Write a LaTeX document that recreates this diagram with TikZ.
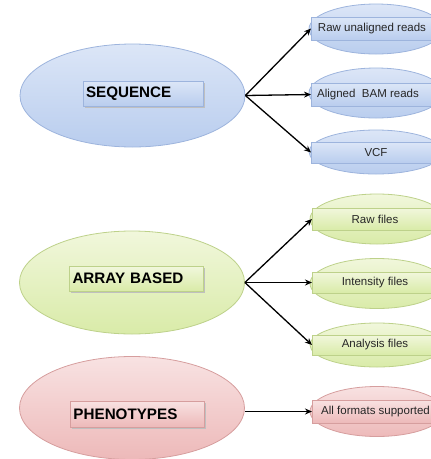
\documentclass[tikz,border=0pt]{standalone}
\usepackage{fontspec}
\setmainfont{Liberation Sans}
\usetikzlibrary{shapes.geometric,arrows.meta}
\definecolor{bTop}{HTML}{DCE6F7}
\definecolor{bBot}{HTML}{B9CDEE}
\definecolor{bLine}{HTML}{9DB4DD}
\definecolor{gTop}{HTML}{F1F7DC}
\definecolor{gBot}{HTML}{D9EBA8}
\definecolor{gLine}{HTML}{BDD18A}
\definecolor{rTop}{HTML}{F8E2E2}
\definecolor{rBot}{HTML}{EDB9B9}
\definecolor{rLine}{HTML}{D69E9E}
\tikzset{
  big/.style={ellipse, draw=#1Line, line width=0.8pt, top color=#1Top, bottom color=#1Bot,
    minimum width=225pt, minimum height=103pt, inner sep=0pt},
  small/.style={ellipse, draw=#1Line, line width=0.8pt, top color=#1Top, bottom color=#1Bot,
    minimum width=134pt, minimum height=50pt, inner sep=0pt},
  bigbox/.style={rectangle, draw=#1Line, line width=0.8pt, top color=#1Top, bottom color=#1Bot,
    minimum height=25pt, inner sep=0pt, font=\bfseries\fontsize{15.2}{17}\selectfont,
    text=black},
  smallbox/.style={rectangle, draw=#1Line, line width=0.8pt, top color=#1Top, bottom color=#1Bot,
    minimum height=23pt, minimum width=128pt, inner sep=0pt},
  lbl/.style={font=\fontsize{11.5}{13}\selectfont, text=black!85, inner sep=0pt},
  shadowbox/.style={fill=black!25, draw=none},
  conn/.style={-{Stealth[length=7pt,width=6pt]}, line width=1.3pt, black}
}
\begin{document}
\begin{tikzpicture}[x=1pt,y=-1pt]
\useasboundingbox (0,0) rectangle (431,459);
\clip (0,0) rectangle (431,459);
% big ellipses
\node[big=b] (seq) at (132.5,95.5) {};
\node[big=g] (arr) at (132,282.5) {};
\node[big=r] (phe) at (132,408) {};
% inner boxes with shadows
\fill[shadowbox] (85,83) rectangle (205,108);
\node[bigbox=b, minimum width=120pt, text width=114pt, align=left] (seqbox) at (143,93.5) {SEQUENCE};
\fill[shadowbox] (71,268) rectangle (205,293);
\node[bigbox=g, minimum width=134pt, text width=127pt, align=left] (arrbox) at (136,278.5) {ARRAY BASED};
\fill[shadowbox] (72,403) rectangle (206,429);
\node[bigbox=r, minimum width=134pt, minimum height=26pt, text width=127pt, align=left] (phebox) at (137,414) {PHENOTYPES};
% small ellipses
\node[small=b] (e1) at (376,29) {};
\node[small=b] (e2) at (376,93) {};
\node[small=b, minimum height=44pt] (e3) at (376,152) {};
\node[small=g] (e4) at (377,219) {};
\node[small=g] (e5) at (377,283.5) {};
\node[small=g, minimum height=44pt] (e6) at (377,345) {};
\node[small=r] (e7) at (377,411.5) {};
% small boxes
\node[smallbox=b, anchor=west] (s1) at (311,28.5) {};
\node[smallbox=b, anchor=west] (s2) at (311,94.5) {};
\node[smallbox=b, anchor=west, minimum height=21pt] (s3) at (311,152.5) {};
\node[smallbox=g, anchor=west, minimum height=22pt] (s4) at (312,219) {};
\node[smallbox=g, anchor=west, minimum height=21pt] (s5) at (312,282.5) {};
\node[smallbox=g, anchor=west, minimum height=20pt] (s6) at (312,345) {};
\node[smallbox=r, anchor=west] (s7) at (312,411.5) {};
% labels
\node[lbl] (t1) at (372,28.5) {Raw unaligned reads};
\node[lbl] (t2) at (368,94.5) {Aligned\ \ BAM reads};
\node[lbl] (t3) at (376,152.5) {VCF};
\node[lbl] (t4) at (375,219) {Raw files};
\node[lbl] (t5) at (375,283) {Intensity files};
\node[lbl] (t6) at (375,345) {Analysis files};
\node[lbl, anchor=west] (t7) at (321,411.5) {All formats supported};
% connectors
\draw[conn] (seq.east) -- (s1.west);
\draw[conn] (seq.east) -- (s2.west);
\draw[conn] (seq.east) -- (s3.west);
\draw[conn] (arr.east) -- (s4.west);
\draw[conn] (arr.east) -- (s5.west);
\draw[conn] (arr.east) -- (s6.west);
\draw[conn] (phe.east |- s7.west) -- (s7.west);
\end{tikzpicture}
\end{document}
